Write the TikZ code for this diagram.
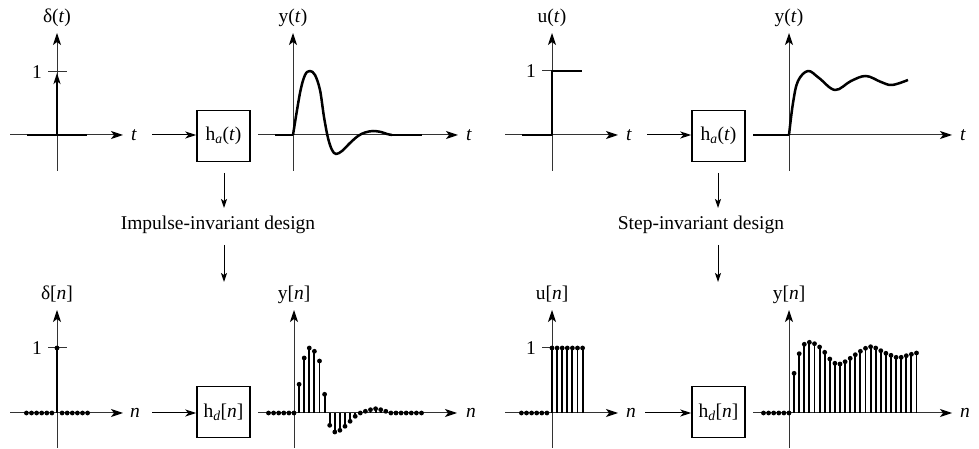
\documentclass[tikz,border=0pt]{standalone}
\usepackage{fontspec}
\setmainfont{Liberation Serif}
\usetikzlibrary{arrows.meta}
\begin{document}
\begin{tikzpicture}[x=1pt,y=1pt,
  every node/.style={font=\fontsize{19.5}{22}\selectfont, inner sep=0pt},
  axis/.style={line width=1pt, draw=black!80, -{Stealth[length=12pt,width=8pt,inset=3pt,color=black]}},
  plainaxis/.style={line width=1pt, draw=black!80},
  sig/.style={line width=2.5pt, draw=black, line join=round},
  stemline/.style={line width=1.9pt, draw=black},
  dotr/.style={fill=black},
  flow/.style={line width=1pt, draw=black, -{Stealth[length=11pt,width=7pt,inset=3pt]}},
  down/.style={line width=1pt, draw=black, -{Stealth[length=9pt,width=6pt,inset=2pt]}},
  sysbox/.style={draw, line width=1.5pt, minimum width=53pt, minimum height=51pt},
  tlab/.style={anchor=base},
  onelab/.style={anchor=east},
  alab/.style={anchor=west}
]
\useasboundingbox (0,0) rectangle (979,449);

% ================= boxes and middle =================
\node[sysbox] (B1) at (223.5,313) {h\textsubscript{\textit{a}}(\textit{t})};
\node[sysbox] (B2) at (718.5,313) {h\textsubscript{\textit{a}}(\textit{t})};
\node[sysbox] (B3) at (223.5,37) {h\textsubscript{\textit{d}}[\textit{n}]};
\node[sysbox] (B4) at (718.5,37) {h\textsubscript{\textit{d}}[\textit{n}]};

\node[anchor=base] (L1) at (218,219) {Impulse-invariant design};
\node[anchor=base] (L2) at (701,219) {Step-invariant design};

\coordinate (d1a) at (224,276); \coordinate (d1b) at (224,241);
\coordinate (d1c) at (224,204); \coordinate (d1d) at (224,167);
\coordinate (d2a) at (718,276); \coordinate (d2b) at (718,241);
\coordinate (d2c) at (718,204); \coordinate (d2d) at (718,167);
\draw[down] (d1a) -- (d1b);
\draw[down] (d1c) -- (d1d);
\draw[down] (d2a) -- (d2b);
\draw[down] (d2c) -- (d2d);

\coordinate (a1) at (152,314); \draw[flow] (a1) -- (B1.west |- a1);
\coordinate (a2) at (647,314); \draw[flow] (a2) -- (B2.west |- a2);
\coordinate (a3) at (152,36);  \draw[flow] (a3) -- (B3.west |- a3);
\coordinate (a4) at (645,36);  \draw[flow] (a4) -- (B4.west |- a4);

% ================= P1: delta(t) =================
\begin{scope}[shift={(57,314)}]
  \coordinate (p1l) at (-47,0); \coordinate (p1r) at (66,0);
  \coordinate (p1b) at (0,-36); \coordinate (p1t) at (0,102);
  \draw[axis] (p1l) -- (p1r);
  \draw[axis] (p1b) -- (p1t);
  \node[tlab] (p1name) at (0,112) {δ(\textit{t})};
  \node[alab] (p1x) at (74,0) {\textit{t}};
  \draw[plainaxis] (-9,63) -- (10,63);
  \node[onelab] (p1one) at (-15,63) {1};
  \draw[sig] (-30,0) -- (30,0);
  \draw[sig, -{Stealth[length=11pt,width=7pt,inset=3pt]}] (0,0) -- (0,62);
\end{scope}

% ================= P2: y(t) impulse response =================
\begin{scope}[shift={(293,314)}]
  \coordinate (p2l) at (-35,0); \coordinate (p2r) at (165,0);
  \coordinate (p2b) at (0,-36); \coordinate (p2t) at (0,102);
  \draw[axis] (p2l) -- (p2r);
  \draw[axis] (p2b) -- (p2t);
  \node[tlab] (p2name) at (0,112) {y(\textit{t})};
  \node[alab] (p2x) at (173,0) {\textit{t}};
  \draw[sig] (-18,0) -- (0,0);
  \draw[sig] plot[smooth, tension=0.55] coordinates {(0,0) (7,42) (12,60) (17,64) (22,60) (27,45) (31,18) (35,-3) (39,-15) (43,-19) (49,-16) (57,-8) (65,-1) (72,2.5) (80,4) (88,3) (94,1) (99,0)};
  \draw[sig] (99,0) -- (129,0);
\end{scope}

% ================= P3: u(t) =================
\begin{scope}[shift={(552,314)}]
  \coordinate (p3l) at (-47,0); \coordinate (p3r) at (66,0);
  \coordinate (p3b) at (0,-36); \coordinate (p3t) at (0,102);
  \draw[axis] (p3l) -- (p3r);
  \draw[axis] (p3b) -- (p3t);
  \node[tlab] (p3name) at (0,112) {u(\textit{t})};
  \node[alab] (p3x) at (74,0) {\textit{t}};
  \draw[plainaxis] (-10,64) -- (0,64);
  \node[onelab] (p3one) at (-16,64) {1};
  \draw[sig] (-30,0) -- (0,0) -- (0,64) -- (30,64);
\end{scope}

% ================= P4: y(t) step response =================
\begin{scope}[shift={(789,314)}]
  \coordinate (p4l) at (-36,0); \coordinate (p4r) at (163,0);
  \coordinate (p4b) at (0,-36); \coordinate (p4t) at (0,102);
  \draw[axis] (p4l) -- (p4r);
  \draw[axis] (p4b) -- (p4t);
  \node[tlab] (p4name) at (0,112) {y(\textit{t})};
  \node[alab] (p4x) at (171,0) {\textit{t}};
  \draw[sig] (-36,0) -- (0,0);
  \draw[sig] plot[smooth, tension=0.6] coordinates {(0,0) (4,32) (9,54) (19,64) (30,57) (46,45) (62,54) (77,59) (92,53) (103,50) (119,55)};
\end{scope}

% ================= Q1: delta[n] =================
\begin{scope}[shift={(57,36)}]
  \coordinate (q1l) at (-47,0); \coordinate (q1r) at (66,0);
  \coordinate (q1b) at (0,-35); \coordinate (q1t) at (0,103);
  \draw[axis] (q1l) -- (q1r);
  \draw[axis] (q1b) -- (q1t);
  \node[tlab] (q1name) at (0,113) {δ[\textit{n}]};
  \node[alab] (q1x) at (73,0) {\textit{n}};
  \draw[plainaxis] (-9,65) -- (10,65);
  \node[onelab] (q1one) at (-15,65) {1};
  \draw[stemline] (0,0) -- (0,65);
  \fill[dotr] (0,65) circle (2.4);
  \foreach \n in {-6,...,-1,1,2,...,6} { \fill[dotr] (5.1*\n,0) circle (2.4); }
\end{scope}

% ================= Q2: y[n] impulse-invariant =================
\begin{scope}[shift={(294,36)}]
  \coordinate (q2l) at (-36,0); \coordinate (q2r) at (163,0);
  \coordinate (q2b) at (0,-35); \coordinate (q2t) at (0,103);
  \draw[axis] (q2l) -- (q2r);
  \draw[axis] (q2b) -- (q2t);
  \node[tlab] (q2name) at (0,113) {y[\textit{n}]};
  \node[alab] (q2x) at (172,0) {\textit{n}};
  \foreach \n in {-5,...,0} { \fill[dotr] (5.1*\n,0) circle (2.4); }
  \foreach \n/\v in {1/28.7,2/55,3/65,4/61.7,5/52,6/18.7,7/-12.3,8/-19,9/-17.3,10/-13.3,11/-8.3,12/-3.3,13/0,14/1.7,15/3.3,16/4.3,17/3.3,18/1.7,19/0,20/0,21/0,22/0,23/0,24/0,25/0} {
    \draw[stemline] (5.1*\n,0) -- (5.1*\n,\v);
    \fill[dotr] (5.1*\n,\v) circle (2.4);
  }
\end{scope}

% ================= Q3: u[n] =================
\begin{scope}[shift={(552,36)}]
  \coordinate (q3l) at (-47,0); \coordinate (q3r) at (66,0);
  \coordinate (q3b) at (0,-35); \coordinate (q3t) at (0,103);
  \draw[axis] (q3l) -- (q3r);
  \draw[axis] (q3b) -- (q3t);
  \node[tlab] (q3name) at (0,113) {u[\textit{n}]};
  \node[alab] (q3x) at (74,0) {\textit{n}};
  \draw[plainaxis] (-10,65) -- (0,65);
  \node[onelab] (q3one) at (-16,65) {1};
  \foreach \n in {-6,...,-1} { \fill[dotr] (5.1*\n,0) circle (2.4); }
  \foreach \n in {0,...,6} {
    \draw[stemline] (5.1*\n,0) -- (5.1*\n,65);
    \fill[dotr] (5.1*\n,65) circle (2.4);
  }
\end{scope}

% ================= Q4: y[n] step-invariant =================
\begin{scope}[shift={(789,36)}]
  \coordinate (q4l) at (-36,0); \coordinate (q4r) at (163,0);
  \coordinate (q4b) at (0,-35); \coordinate (q4t) at (0,103);
  \draw[axis] (q4l) -- (q4r);
  \draw[axis] (q4b) -- (q4t);
  \node[tlab] (q4name) at (0,113) {y[\textit{n}]};
  \node[alab] (q4x) at (171,0) {\textit{n}};
  \foreach \n in {-5,...,0} { \fill[dotr] (5.1*\n,0) circle (2.4); }
  \foreach \n/\v in {1/39.7,2/59.3,3/68.7,4/70.7,5/69.3,6/66,7/60.7,8/54,9/49.7,10/49,11/51.3,12/54.7,13/58.3,14/61.7,15/64.7,16/66.3,17/65,18/62.3,19/59.7,20/57.7,21/55.7,22/55.7,23/57.3,24/58.7,25/60} {
    \draw[stemline] (5.1*\n,0) -- (5.1*\n,\v);
    \fill[dotr] (5.1*\n,\v) circle (2.4);
  }
\end{scope}
\end{tikzpicture}
\end{document}
